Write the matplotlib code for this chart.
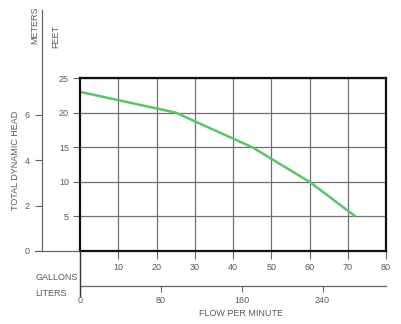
import matplotlib
matplotlib.use("Agg")
import matplotlib.pyplot as plt
from matplotlib.lines import Line2D

# Data
flow_gpm = [0, 25, 45, 60, 72]
head_ft = [23, 20, 15, 10, 5]
gallon_ticks = [10, 20, 30, 40, 50, 60, 70, 80]
liter_ticks = [0, 80, 160, 240]
feet_ticks = [5, 10, 15, 20, 25]
meter_ticks = [0, 2, 4, 6]

W, H = 401, 324
plt.rcParams['font.family'] = ['Liberation Sans', 'DejaVu Sans']
txt = '#5a5a5a'
fig = plt.figure(figsize=(W / 100, H / 100), dpi=100)

def px(x0, y0, x1, y1):
    return [x0 / W, 1 - y1 / H, (x1 - x0) / W, (y1 - y0) / H]

# main axes (feet vs gallons)
ax = fig.add_axes(px(80, 78, 386, 251))
ax.plot(flow_gpm, head_ft, color='#5cc46a', lw=1.8, solid_capstyle='butt')
ax.set_xlim(0, 80)
ax.set_ylim(0, 25)
ax.set_xticks(gallon_ticks)
ax.set_yticks(feet_ticks)
ax.grid(True, color='#707070', lw=0.9)
for s in ax.spines.values():
    s.set_color('#111111')
    s.set_linewidth(1.6)
ax.tick_params(axis='x', direction='out', length=6, width=0.8, color='#666666',
               labelsize=6.5, labelcolor=txt, pad=3)
ax.tick_params(axis='y', direction='out', length=5, width=0.8, color='#666666',
               labelsize=6.5, labelcolor=txt, pad=3)

# meters axis
ft_per_m = 3.281
top_px = 10
ytop_m = (25 / ft_per_m) * (251 - top_px) / (251 - 78)
axm = fig.add_axes(px(42, top_px, 43, 251))
axm.set_ylim(0, ytop_m)
axm.set_xticks([])
axm.set_yticks(meter_ticks)
for k in ['top', 'right', 'bottom']:
    axm.spines[k].set_visible(False)
axm.spines['left'].set_color('#666666')
axm.spines['left'].set_linewidth(0.9)
axm.patch.set_alpha(0)
axm.tick_params(axis='y', direction='out', length=5, width=0.8, color='#666666',
                labelsize=6.5, labelcolor=txt, pad=4)

# liters axis
axl = fig.add_axes(px(80, 270, 386, 286))
axl.set_xlim(0, 80 * 3.785)
axl.set_yticks([])
axl.set_xticks(liter_ticks)
for k in ['top', 'right', 'left']:
    axl.spines[k].set_visible(False)
axl.spines['bottom'].set_color('#666666')
axl.spines['bottom'].set_linewidth(0.9)
axl.patch.set_alpha(0)
axl.tick_params(axis='x', direction='out', length=4, width=0.8, color='#666666',
                labelsize=6.5, labelcolor=txt, pad=3)

# extra figure lines
def fline(x0, y0, x1, y1, **kw):
    fig.add_artist(Line2D([x0 / W, x1 / W], [1 - y0 / H, 1 - y1 / H],
                          transform=fig.transFigure, **kw))

fline(35, 251, 80, 251, color='#666666', lw=0.9)
fline(80, 251, 80, 296, color='#333333', lw=1.0)

# texts
fig.text(35 / W, 1 - 25 / H, 'METERS', rotation=90, ha='center', va='center',
         fontsize=6.5, color=txt)
fig.text(56 / W, 1 - 37 / H, 'FEET', rotation=90, ha='center', va='center',
         fontsize=6.5, color=txt)
fig.text(16 / W, 1 - 160 / H, 'TOTAL DYNAMIC HEAD', rotation=90, ha='center',
         va='center', fontsize=6.5, color=txt)
fig.text(35 / W, 1 - 277 / H, 'GALLONS', ha='left', va='center',
         fontsize=6.5, color=txt)
fig.text(35 / W, 1 - 293 / H, 'LITERS', ha='left', va='center',
         fontsize=6.5, color=txt)
fig.text(241 / W, 1 - 313 / H, 'FLOW PER MINUTE', ha='center', va='center',
         fontsize=6.5, color=txt)

fig.savefig('out.png', dpi=100)
